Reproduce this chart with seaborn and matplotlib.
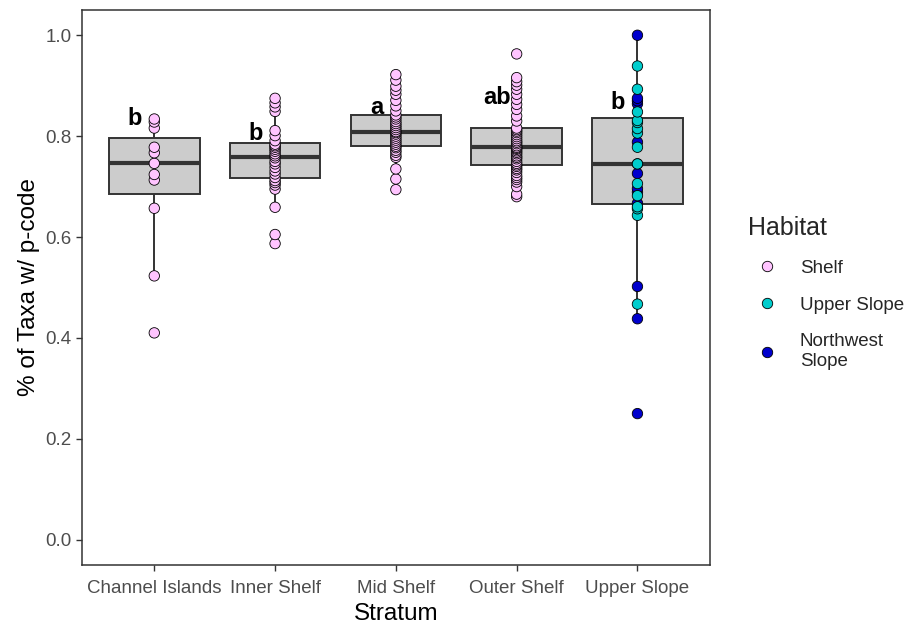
import matplotlib
matplotlib.use("Agg")
import matplotlib.pyplot as plt
import seaborn as sns
import pandas as pd

# data
strata = ["Channel Islands", "Inner Shelf", "Mid Shelf", "Outer Shelf", "Upper Slope"]
habitats = ["Shelf", "Upper Slope", "Northwest Slope"]

channel_islands = [0.410, 0.523, 0.657, 0.713, 0.724, 0.746, 0.767, 0.778, 0.816, 0.828, 0.834]
inner_shelf = [0.587, 0.605, 0.659, 0.695, 0.703, 0.708, 0.712,
               0.718, 0.725, 0.731, 0.738, 0.745, 0.750, 0.757, 0.761, 0.765, 0.770, 0.774,
               0.778, 0.781, 0.784, 0.791, 0.801, 0.811, 0.849, 0.858, 0.866, 0.875]
mid_shelf = [0.694, 0.715, 0.735, 0.758, 0.762, 0.768, 0.772, 0.777, 0.780,
             0.784, 0.788, 0.792, 0.796, 0.800, 0.804, 0.807, 0.809, 0.813, 0.817,
             0.821, 0.825, 0.829, 0.834, 0.838, 0.842,
             0.850, 0.860, 0.871, 0.883, 0.891, 0.899, 0.911, 0.922]
outer_shelf = [0.680, 0.685, 0.700, 0.709, 0.714, 0.718, 0.722, 0.728, 0.733, 0.736, 0.740, 0.743,
               0.746, 0.750, 0.755, 0.758, 0.761, 0.765, 0.768, 0.771, 0.774, 0.776, 0.778,
               0.781, 0.785, 0.788, 0.791, 0.795, 0.799, 0.803, 0.807, 0.810, 0.813, 0.816,
               0.830, 0.840, 0.853, 0.863, 0.873, 0.883, 0.893, 0.901, 0.908, 0.916, 0.963]
upper_slope_us = [0.467, 0.643, 0.656, 0.660, 0.682, 0.706, 0.745, 0.745, 0.778, 0.806,
                  0.815, 0.827, 0.831, 0.848, 0.893, 0.939]
upper_slope_nw = [0.250, 0.438, 0.502, 0.667, 0.689, 0.696, 0.726, 0.788, 0.864, 0.870, 0.875, 1.000]

letters = ["b", "b", "a", "ab", "b"]
letter_y = [0.834, 0.805, 0.856, 0.876, 0.866]

rows = []
for s, vals in zip(strata[:4], [channel_islands, inner_shelf, mid_shelf, outer_shelf]):
    rows += [(s, "Shelf", v) for v in vals]
rows += [("Upper Slope", "Northwest Slope", v) for v in upper_slope_nw]
rows += [("Upper Slope", "Upper Slope", v) for v in upper_slope_us]
df = pd.DataFrame(rows, columns=["Stratum", "Habitat", "pct"])
pal = {"Shelf": "#FFC4FF", "Upper Slope": "#00CDCD", "Northwest Slope": "#0000CD"}

sns.set_style("white")
plt.rcParams["font.family"] = ["Liberation Sans", "DejaVu Sans"]

fig = plt.figure(figsize=(9.09, 6.27), dpi=100)
ax = fig.add_axes([0.090, 0.099, 0.691, 0.885])

sns.boxplot(data=df, x="Stratum", y="pct", order=strata, color="#cccccc", saturation=1,
            width=0.75, showfliers=False, showcaps=False, linecolor="#333333", linewidth=1.4,
            medianprops=dict(linewidth=3, color="#333333"), ax=ax)

# blue first, cyan on top (as in the reference)
sns.stripplot(data=df, x="Stratum", y="pct", hue="Habitat", order=strata,
              hue_order=["Shelf", "Northwest Slope", "Upper Slope"],
              palette=pal, jitter=False, dodge=False,
              size=7.5, linewidth=0.6, edgecolor="black", ax=ax, zorder=3)

for i, (lab, yv) in enumerate(zip(letters, letter_y)):
    ax.text(i - 0.16, yv, lab, ha="center", va="center", fontsize=17, fontweight="bold", color="black")

ax.set_ylim(-0.05, 1.05)
ax.set_xlim(-0.6, 4.6)
ax.set_yticks([0.0, 0.2, 0.4, 0.6, 0.8, 1.0])
ax.set_yticklabels(["0.0", "0.2", "0.4", "0.6", "0.8", "1.0"])
ax.set_xlabel("Stratum", fontsize=17.5, color="black", labelpad=4)
ax.set_ylabel("% of Taxa w/ p-code", fontsize=17.5, color="black")
ax.tick_params(axis="both", labelsize=13.5, labelcolor="#4d4d4d", color="#333333",
               length=4, width=1, bottom=True, left=True)
ax.tick_params(axis="x", pad=7)
for sp in ax.spines.values():
    sp.set_color("#333333")
    sp.set_linewidth(1.1)

handles, labels = ax.get_legend_handles_labels()
hmap = dict(zip(labels, handles))
leg = ax.legend([hmap[h] for h in habitats], ["Shelf", "Upper Slope", "Northwest\nSlope"],
                title="Habitat", loc="center left", bbox_to_anchor=(1.034, 0.49), frameon=False,
                fontsize=13.5, title_fontsize=18, labelspacing=1.05, handletextpad=0.75,
                alignment="left")

fig.savefig("out.png", dpi=100)
